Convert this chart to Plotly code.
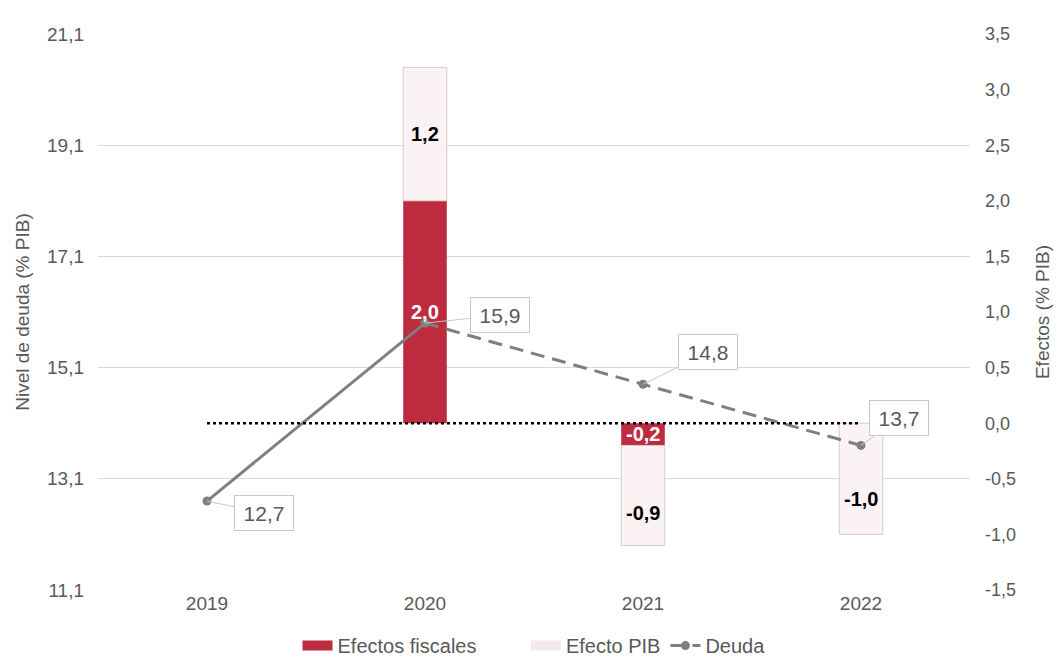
import plotly.graph_objects as go

years = ["2019", "2020", "2021", "2022"]
efectos_fiscales = [None, 2.0, -0.2, 0.0]
efecto_pib = [None, 1.2, -0.9, -1.0]
deuda = [12.7, 15.9, 14.8, 13.7]

left_ticks = [11.1, 13.1, 15.1, 17.1, 19.1, 21.1]
right_ticks = [-1.5, -1.0, -0.5, 0.0, 0.5, 1.0, 1.5, 2.0, 2.5, 3.0, 3.5]

RED = "#be2b3e"
PALE = "#fbf2f3"
PALE_LINE = "#d9c9cb"
GRAY = "#7f7f7f"
TXT = "#595959"
FONT = "Liberation Sans"
NBSP = "\u00a0"

def fmt(v):
    return f"{v:.1f}".replace(".", ",")

fig = go.Figure()

fig.add_trace(go.Bar(
    x=years, y=efectos_fiscales, name="Efectos fiscales", legendgroup="fis",
    showlegend=False,
    marker=dict(color=RED, line=dict(width=0)), width=0.2,
    yaxis="y", hoverinfo="skip"))
fig.add_trace(go.Bar(
    x=years, y=efecto_pib, name="Efecto PIB", legendgroup="pib",
    showlegend=False,
    marker=dict(color=PALE, line=dict(color=PALE_LINE, width=1)), width=0.2,
    yaxis="y", hoverinfo="skip"))

# legend entries with wide swatches (same groups as the bars)
fig.add_trace(go.Scatter(
    x=[None], y=[None], mode="lines", name="Efectos fiscales" + NBSP * 8,
    legendgroup="fis",
    line=dict(color=RED, width=11), yaxis="y", hoverinfo="skip"))
fig.add_trace(go.Scatter(
    x=[None], y=[None], mode="lines", name="Efecto PIB", legendgroup="pib",
    line=dict(color="#f4e9eb", width=11), yaxis="y", hoverinfo="skip"))

# Debt line: solid 2019-2020, dashed 2020-2022
fig.add_trace(go.Scatter(
    x=years[:2], y=deuda[:2], mode="lines+markers", showlegend=False,
    legendgroup="deuda",
    line=dict(color=GRAY, width=3), marker=dict(color=GRAY, size=9),
    yaxis="y2", hoverinfo="skip"))
fig.add_trace(go.Scatter(
    x=years[1:], y=deuda[1:], mode="lines+markers", name="Deuda", legendgroup="deuda",
    line=dict(color=GRAY, width=3, dash="14px,8px"), marker=dict(color=GRAY, size=9),
    yaxis="y2", hoverinfo="skip"))

fig.update_layout(
    width=1054, height=652,
    margin=dict(l=90, r=92, t=26, b=70, autoexpand=False),
    paper_bgcolor="white", plot_bgcolor="white",
    barmode="relative",
    separators=", ",
    font=dict(family=FONT, color=TXT, size=18),
    xaxis=dict(type="category", range=[-0.5, 3.5], showgrid=False,
               showline=False, ticks="", tickfont=dict(size=19, color=TXT)),
    yaxis=dict(side="right", range=[-1.5, 3.5], tickvals=right_ticks,
               ticktext=[fmt(v) for v in right_ticks], showgrid=False,
               zeroline=False, showline=False, ticks="", ticklabelstandoff=14,
               tickfont=dict(size=18, color=TXT),
               title=dict(text="Efectos (% PIB)", font=dict(size=19, color=TXT), standoff=20)),
    yaxis2=dict(side="left", overlaying="y", range=[11.1, 21.1], tickvals=left_ticks,
                ticktext=[fmt(v) for v in left_ticks], showgrid=True,
                gridcolor="#d9d9d9", gridwidth=1, zeroline=False, showline=False,
                ticks="", ticklabelstandoff=13, tickfont=dict(size=19, color=TXT),
                title=dict(text="Nivel de deuda (% PIB)", font=dict(size=19, color=TXT), standoff=12)),
    legend=dict(orientation="h", x=0.5, xanchor="center", y=-0.1, yanchor="middle",
                font=dict(size=20, color=TXT), traceorder="normal"),
    shapes=[dict(type="line", xref="x", yref="y", x0=0, x1=3, y0=0, y1=0,
                 line=dict(color="black", width=2.5, dash="dot"))],
)

# Bar labels
for i, y in enumerate(years):
    f = efectos_fiscales[i]
    p = efecto_pib[i]
    if f is None:
        continue
    if f != 0:
        fig.add_annotation(
            x=i, y=f / 2, xref="x", yref="y", text="<b>" + fmt(f) + "</b>",
            showarrow=False, font=dict(color="white", size=20, family=FONT))
    if p > 0:
        yp = f + p / 2
    else:
        yp = min(f, 0) + p * 0.68
    fig.add_annotation(
        x=i, y=yp, xref="x", yref="y", text="<b>" + fmt(p) + "</b>",
        showarrow=False, font=dict(color="black", size=20, family=FONT))

# Debt labels with callouts
offsets = [(57, 12), (75, -8), (65, -32), (38, -27)]
for i, y in enumerate(years):
    ax, ay = offsets[i]
    fig.add_annotation(
        x=i, y=deuda[i], xref="x", yref="y2", text=fmt(deuda[i]),
        showarrow=True, arrowhead=0, arrowwidth=1, arrowcolor="#c8c8c8",
        ax=ax, ay=ay, width=50, height=26, bgcolor="white", bordercolor="#c8c8c8",
        borderwidth=1, borderpad=4, font=dict(color=TXT, size=21, family=FONT))

fig.write_html("out.html")
